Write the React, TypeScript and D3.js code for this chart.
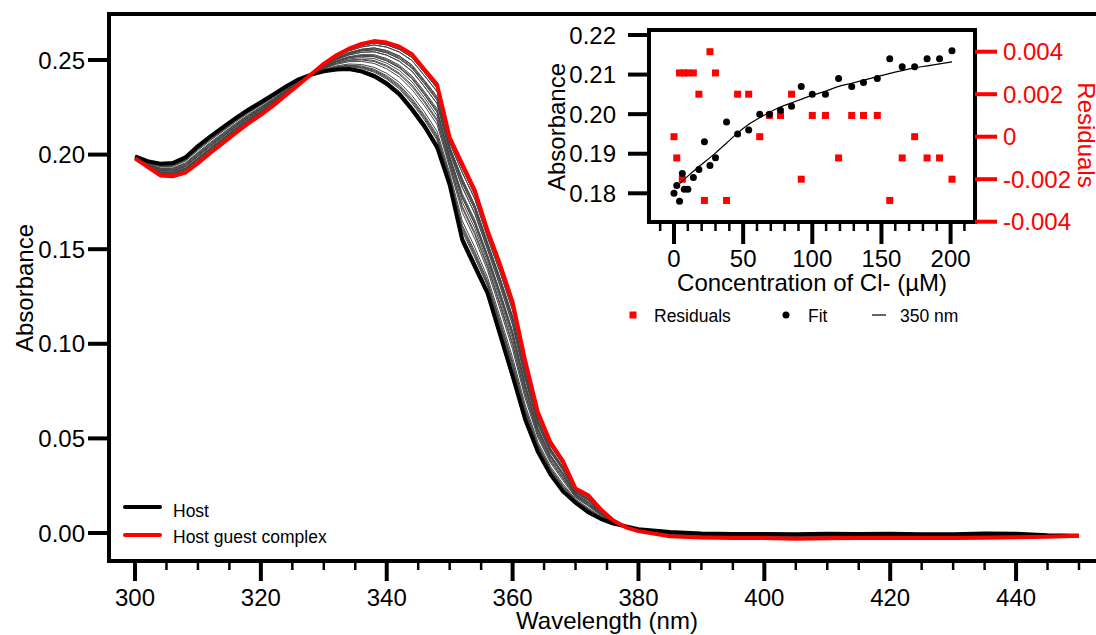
import React from 'react';
import * as d3 from 'd3';

// ---------- Main spectra ----------
const wavelengths = [
  300, 302, 304, 306, 308, 310, 312, 314, 316, 318, 320, 322, 324, 326, 328, 330,
  332, 334, 336, 338, 340, 342, 344, 346, 348, 350, 352, 354, 356, 358, 360, 362,
  364, 366, 368, 370, 372, 374, 376, 378, 380, 385, 390, 395, 400, 405, 410, 415,
  420, 425, 430, 435, 440, 445, 450,
];
const hostAbs = [
  0.199, 0.1965, 0.1952, 0.1955, 0.1985, 0.2045, 0.2097, 0.2145, 0.2193, 0.2237, 0.2277, 0.2318, 0.236, 0.2398, 0.2423, 0.244,
  0.245, 0.2452, 0.244, 0.2415, 0.2375, 0.232, 0.224, 0.215, 0.204, 0.184, 0.155, 0.141, 0.127, 0.105, 0.083, 0.06,
  0.043, 0.031, 0.022, 0.016, 0.011, 0.0075, 0.005, 0.0035, 0.002, 0.0005, -0.0003, -0.0005, -0.0005, -0.0006, -0.0004, -0.0005,
  -0.0004, -0.0006, -0.0006, -0.0002, -0.0004, -0.0012, -0.0014,
];
const complexAbs = [
  0.198, 0.1935, 0.189, 0.1885, 0.1905, 0.1955, 0.201, 0.2062, 0.2115, 0.2165, 0.221, 0.226, 0.2315, 0.237, 0.2425, 0.248,
  0.2525, 0.256, 0.2585, 0.26, 0.2592, 0.257, 0.253, 0.245, 0.237, 0.209, 0.195, 0.181, 0.16, 0.142, 0.122, 0.091,
  0.064, 0.048, 0.038, 0.0235, 0.02, 0.0125, 0.0066, 0.003, 0.001, -0.0017, -0.0024, -0.0026, -0.0027, -0.003, -0.0028, -0.0027,
  -0.0026, -0.0027, -0.0026, -0.0025, -0.0023, -0.002, -0.0015,
];

// ---------- Inset (titration at 350 nm) ----------
const concentrations = [
  0, 2, 4, 6, 7.4, 10, 14, 18, 22, 26, 30, 38, 46, 54, 62, 69, 77, 85, 92, 100,
  109.5, 119, 128.5, 137, 147, 156, 165, 174, 183, 192, 201,
];
const fitAbs = [
  0.18, 0.182, 0.178, 0.185, 0.181, 0.181, 0.184, 0.186, 0.193, 0.187, 0.189, 0.198, 0.195, 0.196, 0.2, 0.2,
  0.201, 0.202, 0.207, 0.205, 0.205, 0.209, 0.207, 0.208, 0.209, 0.214, 0.212, 0.212, 0.214, 0.214, 0.216,
];
const residuals = [
  0, -0.001, 0.003, -0.002, 0.003, 0.003, 0.003, 0.002, -0.003, 0.004, 0.003, -0.003, 0.002, 0.002, 0, 0.001,
  0.001, 0.002, -0.002, 0.001, 0.001, -0.001, 0.001, 0.001, 0.001, -0.003, -0.001, 0, -0.001, -0.001, -0.002,
];
const curveConc = [4.4, 10.8, 17.9, 29.7, 37.7, 45.9, 53.6, 61.5, 69.2, 76.9, 84.6, 92.3, 100.3, 109.5, 119.2, 128.5, 137.2, 147.2, 156.2, 164.9, 174.1, 183.1, 201];
const curveAbs = [0.1825, 0.1846, 0.1867, 0.1901, 0.1926, 0.1952, 0.1973, 0.199, 0.2005, 0.2018, 0.2028, 0.2038, 0.2048, 0.2058, 0.207, 0.2078, 0.2086, 0.2095, 0.2103, 0.211, 0.2117, 0.2122, 0.2132];

// ---------- Ticks ----------
const mainYTicks = [0, 0.05, 0.1, 0.15, 0.2, 0.25];
const mainXTicks = [300, 320, 340, 360, 380, 400, 420, 440];
const insetLeftTicks = [0.18, 0.19, 0.2, 0.21, 0.22];
const insetRightTicks = [-0.004, -0.002, 0, 0.002, 0.004];
const insetXTicks = [0, 50, 100, 150, 200];

const FONT = "'Liberation Sans', Arial, Helvetica, sans-serif";
const RED = '#ff0000';

export default function App() {
  // main scales
  const x = d3.scaleLinear().domain([300, 450]).range([135, 1079]);
  const y = d3.scaleLinear().domain([0, 0.25]).range([533, 60]);
  const line = d3
    .line<[number, number]>()
    .x((d) => x(d[0]))
    .y((d) => y(d[1]));

  const hostPts = wavelengths.map((w, i) => [w, hostAbs[i]] as [number, number]);
  const complexPts = wavelengths.map((w, i) => [w, complexAbs[i]] as [number, number]);
  const a0 = fitAbs[0];
  const aN = fitAbs[fitAbs.length - 1];
  const fractions = fitAbs.slice(1, -1).map((a) => (a - a0) / (aN - a0));
  const midCurves = fractions.map((f) =>
    wavelengths.map((w, i) => [w, hostAbs[i] + f * (complexAbs[i] - hostAbs[i])] as [number, number])
  );

  const minorX = d3.range(300, 451, 5).filter((v) => v % 20 !== 0);

  // inset scales
  const xi = d3.scaleLinear().domain([0, 200]).range([674, 950.6]);
  const yl = d3.scaleLinear().domain([0.18, 0.22]).range([193.3, 35]);
  const yr = d3.scaleLinear().domain([-0.004, 0.004]).range([221.7, 51.7]);
  const fitLine = d3
    .line<[number, number]>()
    .x((d) => xi(d[0]))
    .y((d) => yl(d[1]))
    .curve(d3.curveMonotoneX);
  const curvePts = curveConc.map((c, i) => [c, curveAbs[i]] as [number, number]);
  const insetMinor = d3.range(-10, 211, 10).filter((v) => v % 50 !== 0);
  const IL = 649, IR = 975, IT = 30, IB = 222;

  const fmtRes = (v: number) => (v === 0 ? '0' : v.toFixed(3));

  return (
    <svg
      width={1096}
      height={635}
      style={{ position: 'absolute', left: 0, top: 0, background: '#fff' }}
      fontFamily={FONT}
    >
      <rect x={0} y={0} width={1096} height={635} fill="#fff" />

      {/* main spectra */}
      <g fill="none" strokeLinejoin="round">
        {midCurves.map((c, i) => (
          <path key={i} d={line(c) || ''} stroke="#454545" strokeWidth={1} />
        ))}
        <path d={line(hostPts) || ''} stroke="#000" strokeWidth={4} />
        <path d={line(complexPts) || ''} stroke={RED} strokeWidth={4} />
      </g>

      {/* main frame */}
      <path
        d={`M109,14 L1096,14 M109,12 L109,563 M107,561 L1096,561`}
        stroke="#000"
        strokeWidth={4}
        fill="none"
      />

      {/* main y axis */}
      {mainYTicks.map((t) => (
        <g key={t}>
          <line x1={88} x2={109} y1={y(t)} y2={y(t)} stroke="#000" strokeWidth={4} />
          <text x={85} y={y(t)} dy="0.36em" textAnchor="end" fontSize={24}>
            {d3.format('.2f')(t)}
          </text>
        </g>
      ))}
      <text transform={`translate(33,288) rotate(-90)`} textAnchor="middle" fontSize={24}>
        Absorbance
      </text>

      {/* main x axis */}
      {mainXTicks.map((t) => (
        <g key={t}>
          <line x1={x(t)} x2={x(t)} y1={561} y2={581} stroke="#000" strokeWidth={4} />
          <text x={x(t)} y={606} textAnchor="middle" fontSize={24}>
            {t}
          </text>
        </g>
      ))}
      {minorX.map((t) => (
        <line key={t} x1={x(t)} x2={x(t)} y1={561} y2={570} stroke="#000" strokeWidth={2.5} />
      ))}
      <text x={607} y={629} textAnchor="middle" fontSize={24}>
        Wavelength (nm)
      </text>

      {/* main legend */}
      <line x1={125} x2={160} y1={507} y2={507} stroke="#000" strokeWidth={4} strokeLinecap="round" />
      <text x={173} y={517} fontSize={17.5}>Host</text>
      <line x1={125} x2={160} y1={535} y2={535} stroke={RED} strokeWidth={4} strokeLinecap="round" />
      <text x={173} y={543} fontSize={17.5}>Host guest complex</text>

      {/* ---------- inset ---------- */}
      <rect x={IL} y={IT} width={IR - IL} height={IB - IT} fill="#fff" stroke="none" />
      {/* residuals */}
      {concentrations.map((c, i) => (
        <rect key={'r' + i} x={xi(c) - 3.5} y={yr(residuals[i]) - 3.5} width={7} height={7} fill={RED} />
      ))}
      {/* fit dots */}
      {concentrations.map((c, i) => (
        <circle key={'f' + i} cx={xi(c)} cy={yl(fitAbs[i])} r={3.5} fill="#000" />
      ))}
      <path d={fitLine(curvePts) || ''} fill="none" stroke="#000" strokeWidth={1.2} />

      <rect x={IL} y={IT} width={IR - IL} height={IB - IT} fill="none" stroke="#000" strokeWidth={4} />

      {/* inset left axis */}
      {insetLeftTicks.map((t) => (
        <g key={t}>
          <line x1={628} x2={IL} y1={yl(t)} y2={yl(t)} stroke="#000" strokeWidth={4} />
          <text x={616} y={yl(t)} dy="0.36em" textAnchor="end" fontSize={24}>
            {d3.format('.2f')(t)}
          </text>
        </g>
      ))}
      <text transform={`translate(565,127) rotate(-90)`} textAnchor="middle" fontSize={24}>
        Absorbance
      </text>

      {/* inset right axis */}
      {insetRightTicks.map((t) => (
        <g key={t}>
          <line x1={IR} x2={997} y1={yr(t)} y2={yr(t)} stroke={RED} strokeWidth={4} />
          <text x={1003} y={yr(t)} dy="0.36em" textAnchor="start" fontSize={24} fill={RED}>
            {fmtRes(t)}
          </text>
        </g>
      ))}
      <text transform={`translate(1078,135) rotate(90)`} textAnchor="middle" fontSize={24} fill={RED}>
        Residuals
      </text>

      {/* inset x axis */}
      {insetXTicks.map((t) => (
        <g key={t}>
          <line x1={xi(t)} x2={xi(t)} y1={IB} y2={244} stroke="#000" strokeWidth={4} />
          <text x={xi(t)} y={267} textAnchor="middle" fontSize={24}>
            {t}
          </text>
        </g>
      ))}
      {insetMinor.map((t) => (
        <line key={t} x1={xi(t)} x2={xi(t)} y1={IB} y2={231} stroke="#000" strokeWidth={2.5} />
      ))}
      <text x={812} y={291} textAnchor="middle" fontSize={24}>
        Concentration of Cl- (µM)
      </text>

      {/* inset legend */}
      <rect x={629.5} y={311.5} width={7} height={7} fill={RED} />
      <text x={654} y={322} fontSize={17.5}>Residuals</text>
      <circle cx={786} cy={315} r={3.5} fill="#000" />
      <text x={808} y={322} fontSize={17.5}>Fit</text>
      <line x1={872} x2={886} y1={315} y2={315} stroke="#000" strokeWidth={1.2} />
      <text x={900} y={322} fontSize={17.5}>350 nm</text>
    </svg>
  );
}
